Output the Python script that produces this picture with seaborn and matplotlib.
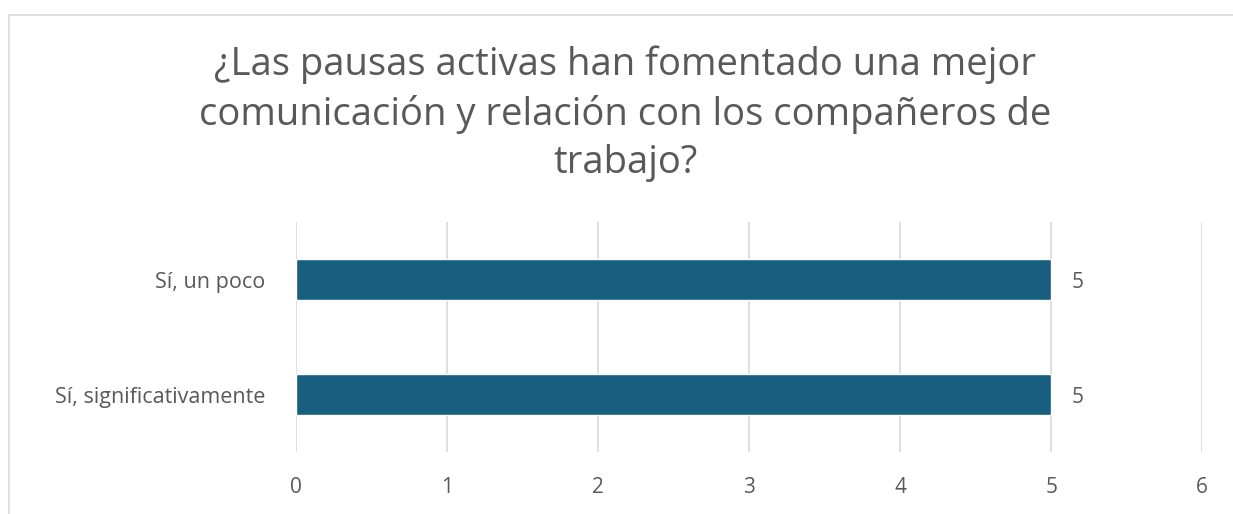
import matplotlib
matplotlib.use("Agg")
import matplotlib.pyplot as plt
import seaborn as sns
import pandas as pd
from matplotlib.patches import Rectangle

# data
categories = ["Sí, un poco", "Sí, significativamente"]
values = [5, 5]
x_ticks = [0, 1, 2, 3, 4, 5, 6]

title = "¿Las pausas activas han fomentado una mejor\ncomunicación y relación con los compañeros de\ntrabajo?"

sns.set_style("white")
plt.rcParams["font.family"] = ["Open Sans", "DejaVu Sans"]

gray = "#595959"
bar_color = "#185F7F"

df = pd.DataFrame({"respuesta": categories, "cantidad": values})

fig = plt.figure(figsize=(12.33, 5.14), dpi=100)
ax = fig.add_axes([0.240, 0.1206, 0.735, 0.4475])

# outer chart border (Excel-like frame)
fig.patches.append(Rectangle((9 / 1233, -0.05), 1.2, 1 - 15 / 514 + 0.05,
                             transform=fig.transFigure, fill=False,
                             edgecolor="#D9D9D9", linewidth=1.2))

sns.barplot(data=df, x="cantidad", y="respuesta", order=categories,
            color=bar_color, saturation=1, width=0.36, ax=ax, zorder=3)

ax.set_xlim(0, 6)
ax.set_xticks(x_ticks)
ax.grid(axis="x", color="#D9D9D9", linewidth=1.2, zorder=0)
for s in ax.spines.values():
    s.set_visible(False)

ax.tick_params(axis="x", length=0, pad=18, labelsize=15, labelcolor=gray)
ax.tick_params(axis="y", length=0, pad=22, labelsize=15.5, labelcolor=gray)
ax.set_xlabel("")
ax.set_ylabel("")

for i, v in enumerate(values):
    ax.annotate(str(v), (v, i), xytext=(15, -2), textcoords="offset points",
                va="center", ha="left", fontsize=15, color=gray)

fig.text(625 / 1233, 1 - 114 / 514, title, ha="center", va="center",
         fontsize=27.5, color=gray, linespacing=1.36)

fig.savefig("out.png", dpi=100)
